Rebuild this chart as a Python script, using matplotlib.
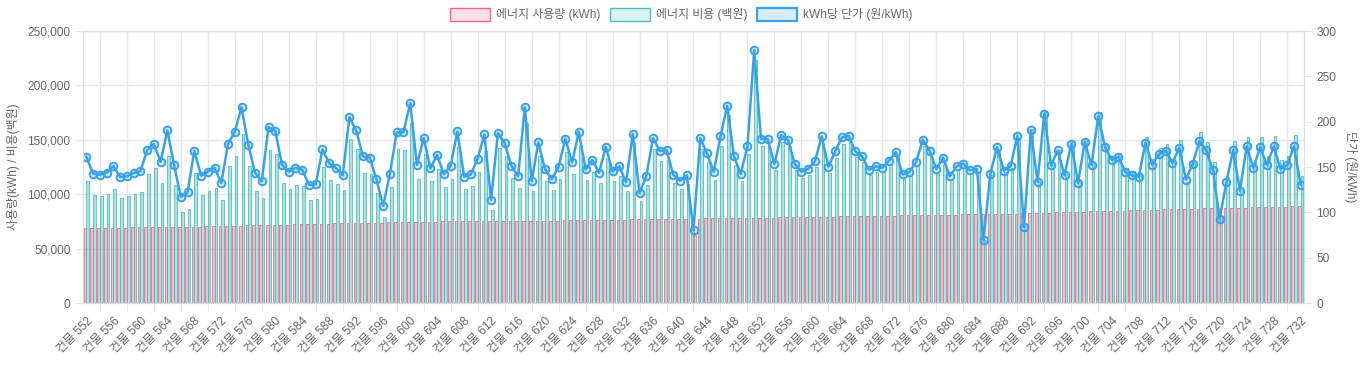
import matplotlib
matplotlib.use('Agg')
import matplotlib.pyplot as plt
import numpy as np
from matplotlib.patches import Rectangle
from matplotlib.ticker import FuncFormatter, MultipleLocator

plt.rcParams['font.family'] = ['Liberation Sans', 'Noto Sans CJK KR', 'DejaVu Sans']

# building labels 552 .. 732
buildings = [f'건물 {n}' for n in range(552, 733)]

# energy usage (kWh)
usage = [
    68900, 69000, 69100, 69150, 69200, 69300, 69350, 69450, 69500, 69600, 69700, 69750, 69850, 69900, 70000, 70100, 70200, 70300,
    70450, 70600, 70750, 70900, 71050, 71200, 71300, 71450, 71600, 71750, 71900, 72000, 72150, 72300, 72450, 72600, 72800,
    72900, 73000, 73150, 73250, 73350, 73500, 73600, 73700, 73850, 73950, 74050, 74200, 74300, 74400, 74550, 74650, 74750, 74900,
    74950, 75000, 75050, 75100, 75150, 75200, 75250, 75300, 75350, 75400, 75450, 75500, 75550, 75600, 75650, 75700, 75750, 75800,
    75900, 76000, 76050, 76150, 76250, 76350, 76400, 76500, 76600, 76700, 76750, 76850, 76950, 77050, 77100, 77200, 77300, 77400,
    77500, 77550, 77650, 77750, 77800, 77900, 78000, 78050, 78150, 78250, 78300, 78400, 78500, 78550, 78650, 78750, 78800, 78900,
    79000, 79100, 79200, 79300, 79450, 79550, 79650, 79750, 79850, 79950, 80050, 80150, 80250, 80350, 80450, 80600, 80700,
    80800, 80900, 81000, 81100, 81200, 81300, 81450, 81550, 81650, 81750, 81850, 81950, 82050, 82150, 82250, 82350, 82450, 82600,
    82800, 83000, 83200, 83350, 83550, 83750, 83900, 84100, 84300, 84450, 84650, 84850, 85000, 85200, 85400, 85550, 85750, 85900,
    86050, 86200, 86300, 86450, 86600, 86750, 86900, 87050, 87150, 87300, 87450, 87600, 87750, 87850, 88000, 88150, 88300, 88400,
    88550, 88700, 88800,
]

# energy cost (100 won units)
cost = [
    112500, 99400, 98800, 100300, 105200, 96900, 97900, 100600, 102100, 119000, 124200, 110700, 135500, 108600, 83500, 86800, 119900, 99700,
    103100, 106100, 94500, 126300, 135500, 155300, 125700, 103400, 96900, 140400, 137300, 110700, 105200, 108900, 107600, 95100, 96000,
    124800, 113500, 109800, 103700, 151100, 141900, 119900, 119000, 101500, 79500, 106700, 141300, 141000, 165400, 114400, 136700, 112200, 123500,
    107000, 114400, 143100, 105200, 107300, 120800, 140100, 85900, 142500, 134900, 114700, 106100, 165400, 102700, 135500, 112500, 104300, 114400,
    139100, 119000, 145600, 113500, 120800, 110700, 133300, 112500, 116500, 103100, 147100, 94200, 108300, 141600, 130900, 131800, 110400, 105200,
    109800, 62400, 141900, 129400, 113500, 144600, 173100, 127200, 112200, 137000, 222900, 144000, 144000, 122300, 147700, 144000, 122600, 115300,
    118000, 124800, 145900, 119900, 133600, 146500, 148600, 134200, 129400, 118000, 120800, 120200, 126900, 134900, 114100, 116500, 126300,
    144000, 133900, 119000, 128100, 113500, 122000, 124200, 119000, 120200, 57500, 118000, 140400, 120800, 124200, 151700, 70600, 160000, 112000,
    176000, 127000, 141000, 118500, 148000, 112000, 150500, 129000, 175500, 146500, 135000, 138000, 124000, 121000, 120000, 152500, 132000, 142500,
    146200, 129400, 149500, 111300, 128700, 157200, 148300, 129400, 80000, 116000, 149000, 107000, 152500, 130000, 152600, 135000, 153800, 131200,
    135000, 154700, 117000,
]

# unit price (won / kWh)
unit_price = [
    161.3, 142.6, 141.5, 143.7, 151.1, 139.0, 139.7, 143.4, 145.2, 168.3, 175.3, 155.8, 190.3, 152.5, 117.0, 122.1, 167.9, 140.4,
    144.8, 149.2, 132.4, 175.6, 188.9, 216.0, 174.5, 143.7, 134.2, 194.0, 189.9, 152.5, 144.8, 149.2, 147.0, 130.2, 130.9,
    169.4, 154.0, 148.9, 140.8, 205.0, 190.3, 161.7, 160.3, 136.4, 107.1, 142.6, 188.1, 188.1, 220.4, 152.2, 181.9, 148.5, 163.5,
    141.9, 151.4, 189.2, 139.3, 141.9, 159.1, 185.9, 113.7, 187.4, 176.4, 151.4, 139.7, 216.0, 134.2, 177.1, 147.4, 136.4, 150.3,
    181.1, 155.1, 188.9, 147.4, 157.7, 143.7, 172.3, 145.2, 150.7, 133.1, 186.3, 121.4, 139.7, 181.9, 167.6, 169.0, 141.5, 134.9,
    140.8, 80.3, 181.9, 165.0, 144.5, 183.7, 217.5, 161.7, 142.3, 172.7, 279.1, 181.1, 180.8, 153.3, 185.2, 180.0, 153.6, 144.6,
    148.1, 156.2, 183.7, 150.3, 167.2, 182.6, 184.5, 167.2, 161.7, 147.0, 150.7, 149.2, 156.9, 166.5, 141.9, 144.5, 155.5,
    180.0, 167.9, 147.8, 160.3, 139.7, 150.7, 153.6, 146.3, 148.1, 69.3, 142.3, 172.0, 145.9, 150.7, 184.5, 84.0, 190.3, 133.8,
    209.0, 151.8, 168.3, 140.8, 175.6, 132.4, 177.5, 152.2, 206.4, 172.0, 158.0, 161.3, 144.5, 140.8, 139.0, 176.7, 152.5, 164.3,
    167.9, 154.4, 171.2, 136.0, 153.6, 178.6, 168.3, 146.3, 92.8, 133.5, 168.7, 123.9, 172.7, 148.9, 172.0, 152.2, 172.7, 148.1,
    151.8, 172.7, 130.5,
]

W, H = 1363, 366
TXT = '#666666'
GRID = '#e6e6e6'
FS = 8.6

fig = plt.figure(figsize=(W / 100, H / 100), dpi=100)
ax = fig.add_axes([83 / W, 1 - 303 / H, (1304 - 83) / W, (303 - 31) / H])

x = np.arange(len(buildings))
ax.bar(x - 0.2, usage, 0.4, color=(1.0, 0.388, 0.518, 0.45), edgecolor='#ff6384', linewidth=0.6)
ax.bar(x + 0.2, cost, 0.4, color=(0.294, 0.753, 0.753, 0.45), edgecolor='#4bc0c0', linewidth=0.6)

ax.set_xlim(-0.5, len(buildings) - 0.5)
ax.set_ylim(0, 250000)
ax.yaxis.set_major_locator(MultipleLocator(50000))
ax.yaxis.set_major_formatter(FuncFormatter(lambda v, p: f'{int(v):,}'))

ax.set_xticks(x[::4])
ax.set_xticklabels(buildings[::4], rotation=45, ha='right', va='top', rotation_mode='anchor')
ax.set_xticks(x[2::4], minor=True)
ax.tick_params(axis='x', which='major', length=0, pad=9, labelsize=FS, labelcolor=TXT)
ax.tick_params(axis='x', which='minor', length=6, color=GRID)
ax.tick_params(axis='y', length=6, color=GRID, labelsize=FS, labelcolor=TXT, pad=3)
ax.grid(axis='y', color=GRID, lw=1)
ax.grid(axis='x', which='minor', color=GRID, lw=1)
ax.set_axisbelow(True)
for s in ax.spines.values():
    s.set_color('#dddddd')

# unit price line on right axis
ax2 = ax.twinx()
ax2.plot(x, unit_price, color='#36a2eb', lw=1.8, marker='o', ms=5.5,
         mfc=(0.212, 0.635, 0.922, 0.2), mec='#36a2eb', mew=1.4)
ax2.set_ylim(0, 300)
ax2.yaxis.set_major_locator(MultipleLocator(50))
ax2.tick_params(axis='y', length=6, color=GRID, labelsize=FS, labelcolor=TXT, pad=3)
for s in ax2.spines.values():
    s.set_color('#dddddd')

fig.text(14 / W, 1 - 167 / H, '사용량(kWh) / 비용(백원)', rotation=90, ha='center', va='center',
         fontsize=FS, color=TXT)
fig.text(1350 / W, 1 - 167 / H, '단가 (원/kWh)', rotation=270, ha='center', va='center',
         fontsize=FS, color=TXT)

# legend drawn by hand at the top
legend_items = [
    (450, '에너지 사용량 (kWh)', '#ffe0e6', '#ff6384', 1.0),
    (610, '에너지 비용 (백원)', '#dbf2f2', '#4bc0c0', 1.0),
    (757, 'kWh당 단가 (원/kWh)', '#d7ecfb', '#36a2eb', 1.6),
]
for lx, label, fc, ec, lw in legend_items:
    fig.patches.append(Rectangle((lx / W, 1 - 21 / H), 40 / W, 13 / H, transform=fig.transFigure,
                                 facecolor=fc, edgecolor=ec, linewidth=lw))
    fig.text((lx + 46) / W, 1 - 14.5 / H, label, ha='left', va='center', fontsize=FS, color=TXT)

fig.savefig('out.png', dpi=100)
